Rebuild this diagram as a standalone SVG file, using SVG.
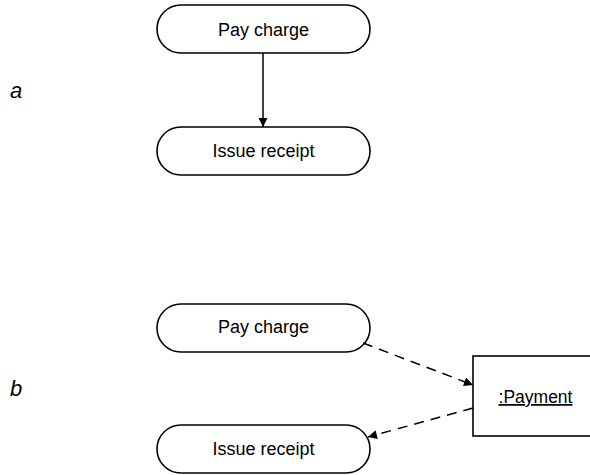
<svg xmlns="http://www.w3.org/2000/svg" width="590" height="475" viewBox="0 0 590 475">
  <style>
    .pill { fill: #fff; stroke: #000; stroke-width: 1.6; }
    .box { fill: #fff; stroke: #000; stroke-width: 1.6; }
    .lbl { font-family: "Liberation Sans", Arial, sans-serif; font-size: 18px; fill: #000; text-anchor: middle; }
    .tag { font-family: "Liberation Sans", Arial, sans-serif; font-size: 22px; font-style: italic; fill: #000; }
    .solid { stroke: #000; stroke-width: 1.5; fill: none; }
    .dash { stroke: #000; stroke-width: 1.5; fill: none; stroke-dasharray: 10 7; }
  </style>
  <defs>
    <marker id="arr" viewBox="0 0 10 10" refX="10" refY="5" markerWidth="10" markerHeight="9" markerUnits="userSpaceOnUse" orient="auto">
      <path d="M0,0 L10,5 L0,10 Z" fill="#000"/>
    </marker>
  </defs>

  <text class="tag" x="10" y="98">a</text>
  <text class="tag" x="10" y="396">b</text>

  <g id="a-pay-charge">
    <rect class="pill" x="157" y="5" width="213" height="48" rx="24" ry="24"/>
    <text class="lbl" x="263.5" y="36">Pay charge</text>
  </g>
  <g id="a-issue-receipt">
    <rect class="pill" x="157" y="127" width="213" height="48" rx="24" ry="24"/>
    <text class="lbl" x="263.5" y="157">Issue receipt</text>
  </g>

  <g id="b-pay-charge">
    <rect class="pill" x="157" y="304" width="213" height="48" rx="24" ry="24"/>
    <text class="lbl" x="263.5" y="333">Pay charge</text>
  </g>
  <g id="b-issue-receipt">
    <rect class="pill" x="157" y="425" width="213" height="48" rx="24" ry="24"/>
    <text class="lbl" x="263.5" y="455">Issue receipt</text>
  </g>
  <g id="payment">
    <rect class="box" x="473" y="356" width="130" height="80"/>
    <text class="lbl" x="535.5" y="403" style="font-size:17.5px; text-decoration: underline;">:Payment</text>
  </g>

  <g id="connectors">
    <line class="solid" x1="263" y1="53" x2="263" y2="127" marker-end="url(#arr)"/>
    <line class="dash" x1="363" y1="343" x2="473" y2="385" marker-end="url(#arr)"/>
    <line class="dash" x1="473" y1="408" x2="368" y2="437" marker-end="url(#arr)"/>
  </g>
</svg>
